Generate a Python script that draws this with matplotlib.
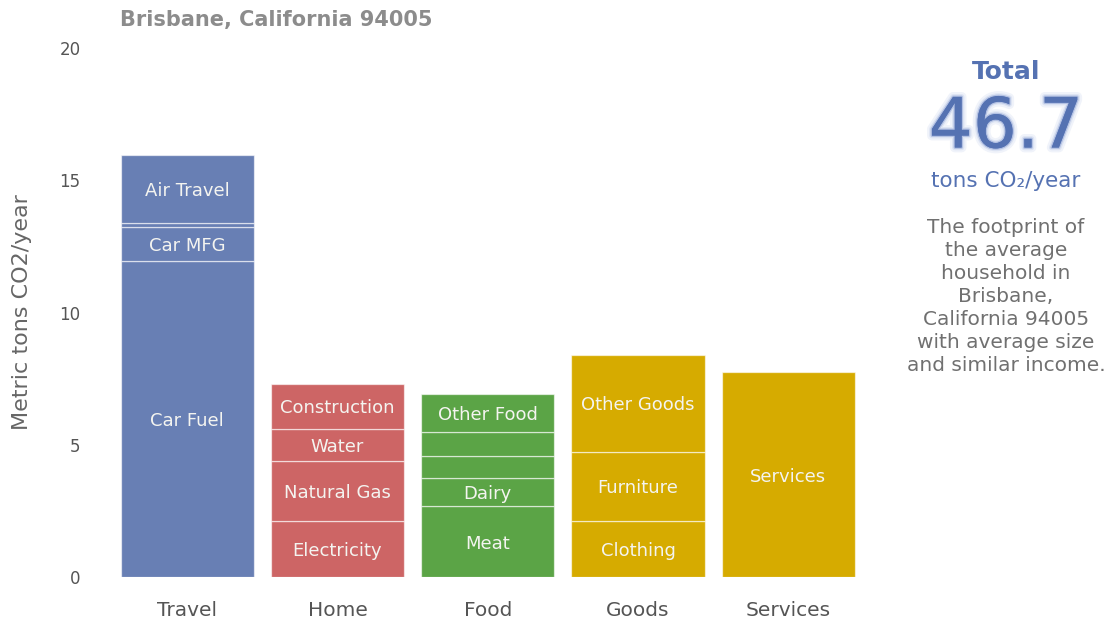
import matplotlib
matplotlib.use("Agg")
import matplotlib.pyplot as plt
import matplotlib.patheffects as pe

categories = ["Travel", "Home", "Food", "Goods", "Services"]
colors = ["#687fb4", "#cd6565", "#5ba446", "#d6ab00", "#d6ab00"]

travel_values = [11.95, 1.28, 0.15, 2.57]
travel_labels = ["Car Fuel", "Car MFG", "", "Air Travel"]
home_values = [2.12, 2.27, 1.21, 1.70]
home_labels = ["Electricity", "Natural Gas", "Water", "Construction"]
food_values = [2.68, 1.06, 0.83, 0.91, 1.44]
food_labels = ["Meat", "Dairy", "", "", "Other Food"]
goods_values = [2.12, 2.61, 3.66]
goods_labels = ["Clothing", "Furniture", "Other Goods"]
services_values = [7.75]
services_labels = ["Services"]

segments = [
    (travel_values, travel_labels),
    (home_values, home_labels),
    (food_values, food_labels),
    (goods_values, goods_labels),
    (services_values, services_labels),
]

yticks = [0, 5, 10, 15, 20]
total_text = "46.7"
title = "Brisbane, California 94005"

W, H = 1107, 620
fig = plt.figure(figsize=(W / 100, H / 100), dpi=100)
ax = fig.add_axes([98.5 / W, (H - 577) / H, (871 - 98.5) / W, (577 - 48) / H])

bar_w = 0.887
for i, (vals, labs) in enumerate(segments):
    bottom = 0.0
    for v, lab in zip(vals, labs):
        ax.bar(i, v, bottom=bottom, width=bar_w, color=colors[i],
               edgecolor=(1, 1, 1, 0.6), linewidth=0.9)
        if lab:
            ax.text(i, bottom + v / 2, lab, ha="center", va="center_baseline",
                    color="#f4f4f0", fontsize=13, family="DejaVu Sans")
        bottom += v

ax.set_xlim(-0.59, 4.55)
ax.set_ylim(0, 20)
ax.set_yticks(yticks)
ax.set_yticklabels([str(t) for t in yticks])
ax.set_xticks(range(len(categories)))
ax.set_xticklabels(categories)
for s in ax.spines.values():
    s.set_visible(False)
ax.tick_params(axis="y", length=0, pad=13, labelsize=12, labelcolor="#555555")
ax.tick_params(axis="x", length=0, pad=17, labelsize=14.5, labelcolor="#555555")

fig.text(22 / W, 1 - 312 / H, "Metric tons CO2/year", rotation=90,
         ha="center", va="center", fontsize=16, color="#666666")

fig.text(120 / W, 1 - 20 / H, title, ha="left", va="center",
         fontsize=15, fontweight="bold", color="#8c8c8c")

cx = 1006 / W
blue = "#5572b2"
fig.text(cx, 1 - 72 / H, "Total", ha="center", va="center",
         fontsize=18, fontweight="bold", color=blue)
fig.text(cx, 1 - 128 / H, total_text, ha="center", va="center",
         fontsize=50, color=blue,
         path_effects=[pe.withStroke(linewidth=7, foreground="#f0f3fa"),
                       pe.withStroke(linewidth=4, foreground="#dde4f3"),
                       pe.withStroke(linewidth=2, foreground="#b3c1e3"),
                       pe.Normal()])
fig.text(cx, 1 - 181 / H, "tons CO\u2082/year", ha="center", va="center",
         fontsize=15.5, color=blue)
fig.text(cx, 1 - 296.5 / H,
         "The footprint of\nthe average\nhousehold in\nBrisbane,\nCalifornia 94005\nwith average size\nand similar income.",
         ha="center", va="center", fontsize=14.5, color="#707070", linespacing=1.26)

fig.savefig("out.png", dpi=100)
